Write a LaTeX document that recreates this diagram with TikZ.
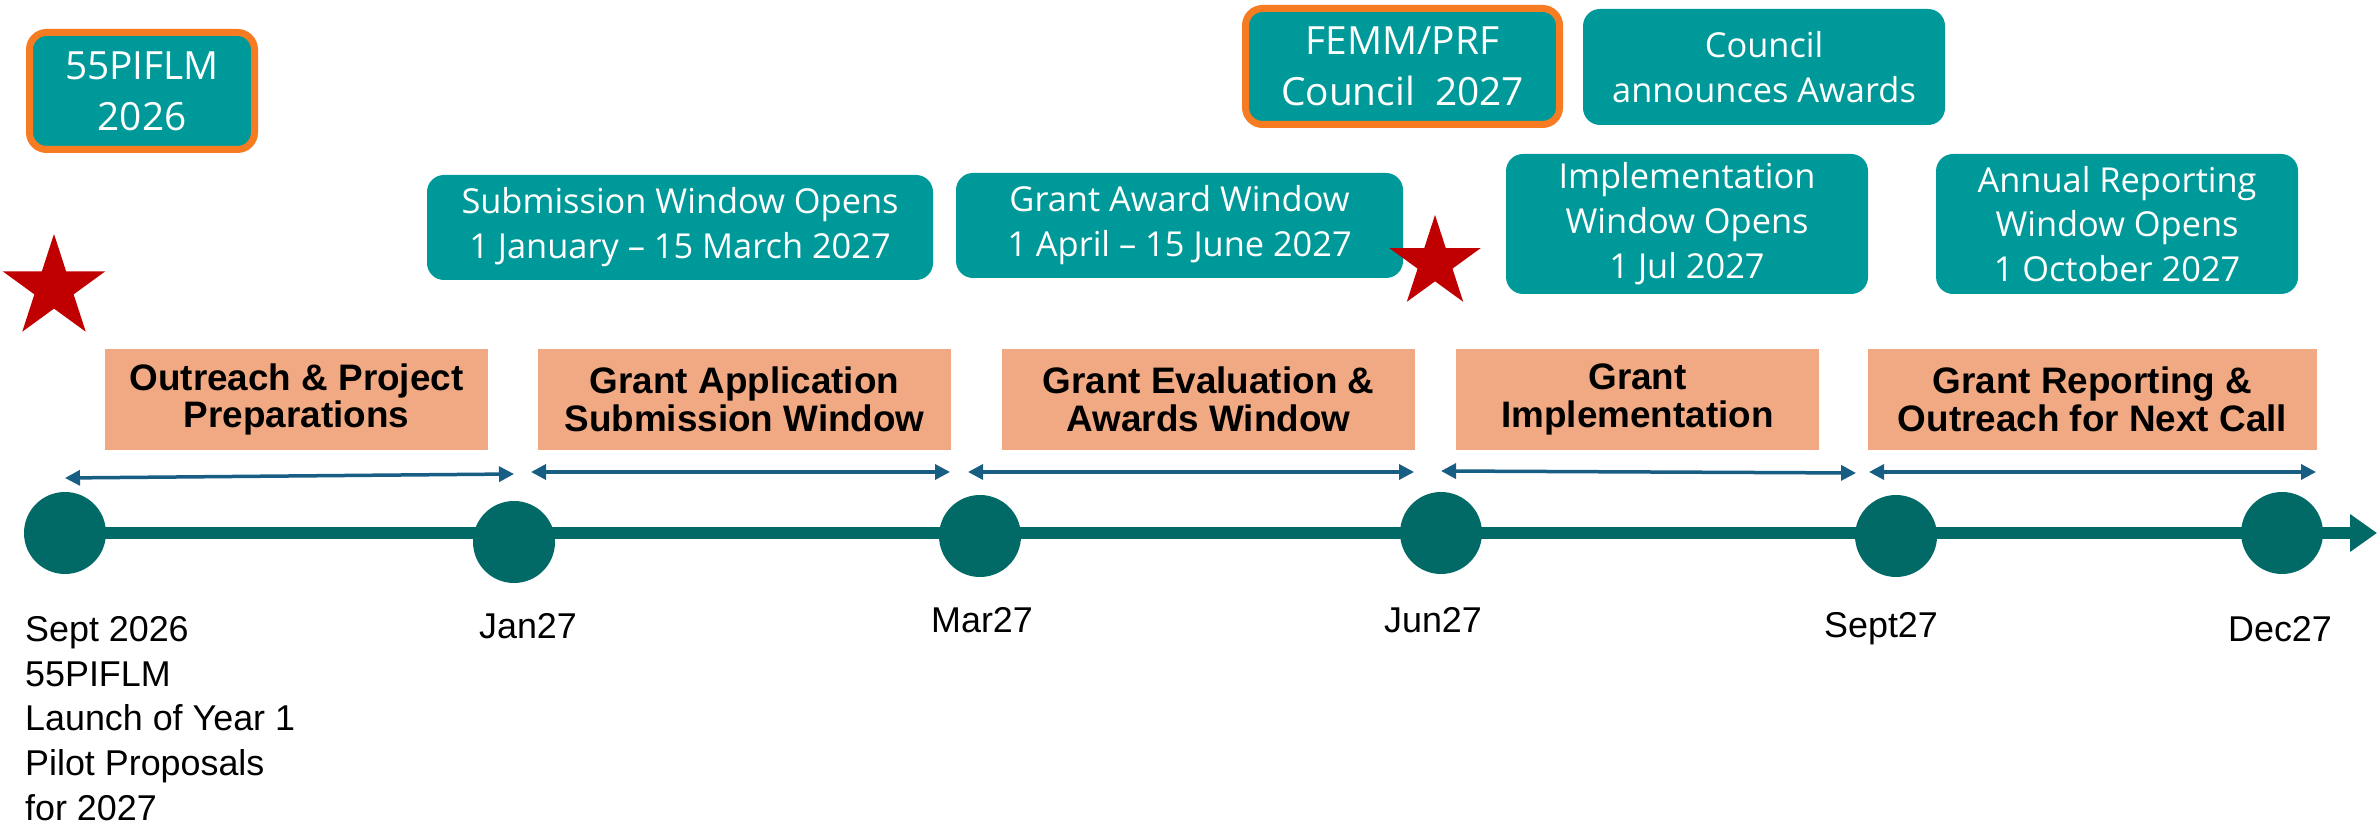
\documentclass[tikz,border=0pt]{standalone}
\usepackage{fontspec}
\setmainfont{Liberation Sans}
\newfontfamily\boxfont{Open Sans}
\usetikzlibrary{arrows.meta,shapes.geometric}

\definecolor{tealbox}{RGB}{0,153,153}
\definecolor{darkteal}{RGB}{2,106,102}
\definecolor{flagorange}{RGB}{247,123,32}
\definecolor{salmon}{RGB}{241,169,131}
\definecolor{spanblue}{RGB}{24,94,132}
\definecolor{starred}{RGB}{192,0,0}

\tikzset{
  notebox/.style={draw=none,fill=tealbox,rounded corners=17bp,text=white,align=center,inner sep=0pt,font=\boxfont\fontsize{34.5}{45}\selectfont},
  flagbox/.style={notebox,draw=flagorange,line width=7bp,font=\boxfont\fontsize{39}{51}\selectfont},
  phasebox/.style={fill=salmon,align=center,inner sep=0pt,minimum height=101bp,font=\bfseries\fontsize{37}{38}\selectfont},
  milestone/.style={circle,fill=darkteal,minimum size=82bp,inner sep=0pt},
  redstar/.style={star,star points=5,star point ratio=2.618,fill=starred,draw=none,inner sep=0pt},
  datelabel/.style={inner sep=0pt,font=\fontsize{36}{45}\selectfont},
  span/.style={spanblue,line width=3.5bp,{Triangle[length=15bp,width=15bp]}-{Triangle[length=15bp,width=15bp]}},
  timeline/.style={darkteal,line width=12bp,-{Triangle[length=27bp,width=36bp]}},
}

\begin{document}
\begin{tikzpicture}[x=1bp,y=1bp]
\useasboundingbox (0,0) rectangle (2377,825);
%%
\node (flag_0) at (142bp,734bp) [flagbox,minimum width=225bp,minimum height=117bp] {55PIFLM\\2026};
  \node (flag_1) at (1402.5bp,758.5bp) [flagbox,minimum width=314bp,minimum height=116bp] {FEMM/PRF\\Council\ \ 2027};
  \node (note_0) at (1764bp,758bp) [notebox,minimum width=362bp,minimum height=116bp] {Council\\announces Awards};
  \node (note_1) at (680bp,597.5bp) [notebox,minimum width=506bp,minimum height=105bp] {Submission Window Opens\\1 January – 15 March 2027};
  \node (note_2) at (1179.5bp,599.5bp) [notebox,minimum width=447bp,minimum height=105bp] {Grant Award Window\\1 April – 15 June 2027};
  \node (note_3) at (1687bp,601bp) [notebox,minimum width=362bp,minimum height=140bp] {Implementation\\Window Opens\\1 Jul 2027};
  \node (note_4) at (2117bp,601bp) [notebox,minimum width=362bp,minimum height=140bp] {Annual Reporting\\Window Opens\\1 October 2027};
  \node (star_0) at (54bp,537bp) [redstar,minimum size=108bp] {};
  \node (star_1) at (1435bp,562bp) [redstar,minimum size=96bp] {};
%
  \node (phase_0) at (296.5bp,425.5bp) [phasebox,minimum width=383bp] {Outreach \& Project\\Preparations};
  \node (phase_1) at (744.5bp,425.5bp) [phasebox,minimum width=413bp] {Grant Application\\Submission Window};
  \node (phase_2) at (1208.5bp,425.5bp) [phasebox,minimum width=413bp] {Grant Evaluation \&\\Awards Window};
  \node (phase_3) at (1637.5bp,425.5bp) [phasebox,minimum width=363bp] {Grant\\Implementation};
  \node (phase_4) at (2092.5bp,425.5bp) [phasebox,minimum width=449bp] {Grant Reporting \&\\Outreach for Next Call};
%
  \coordinate (span_0a) at (65bp,347bp);
  \coordinate (span_0b) at (514bp,351bp);
  \coordinate (span_1a) at (531bp,353bp);
  \coordinate (span_1b) at (950bp,353bp);
  \coordinate (span_2a) at (968bp,353bp);
  \coordinate (span_2b) at (1414bp,353bp);
  \coordinate (span_3a) at (1441bp,354bp);
  \coordinate (span_3b) at (1856bp,352bp);
  \coordinate (span_4a) at (1869bp,353bp);
  \coordinate (span_4b) at (2316bp,353bp);
  \draw [span] (span_0a) -- (span_0b);
  \draw [span] (span_1a) -- (span_1b);
  \draw [span] (span_2a) -- (span_2b);
  \draw [span] (span_3a) -- (span_3b);
  \draw [span] (span_4a) -- (span_4b);
%
  \node (ms_0) at (65bp,292bp) [milestone] {};
  \node (ms_1) at (514bp,283bp) [milestone] {};
  \node (ms_2) at (980bp,289bp) [milestone] {};
  \node (ms_3) at (1441bp,292bp) [milestone] {};
  \node (ms_4) at (1896bp,289bp) [milestone] {};
  \node (ms_5) at (2282bp,292bp) [milestone] {};
  \coordinate (tl_end) at (2377bp,292bp);
  \draw [timeline] (ms_0.center) -- (tl_end);
%
  \node (date_0) at (25bp,209bp) [datelabel,anchor=north west,align=left] {Sept 2026\\55PIFLM\\Launch of Year 1\\Pilot Proposals\\for 2027};
  \node (date_1) at (528bp,186bp) [datelabel,anchor=base] {Jan27};
  \node (date_2) at (982bp,192bp) [datelabel,anchor=base] {Mar27};
  \node (date_3) at (1433bp,192bp) [datelabel,anchor=base] {Jun27};
  \node (date_4) at (1881bp,187bp) [datelabel,anchor=base] {Sept27};
  \node (date_5) at (2280bp,183bp) [datelabel,anchor=base] {Dec27};
%
\end{tikzpicture}
\end{document}
